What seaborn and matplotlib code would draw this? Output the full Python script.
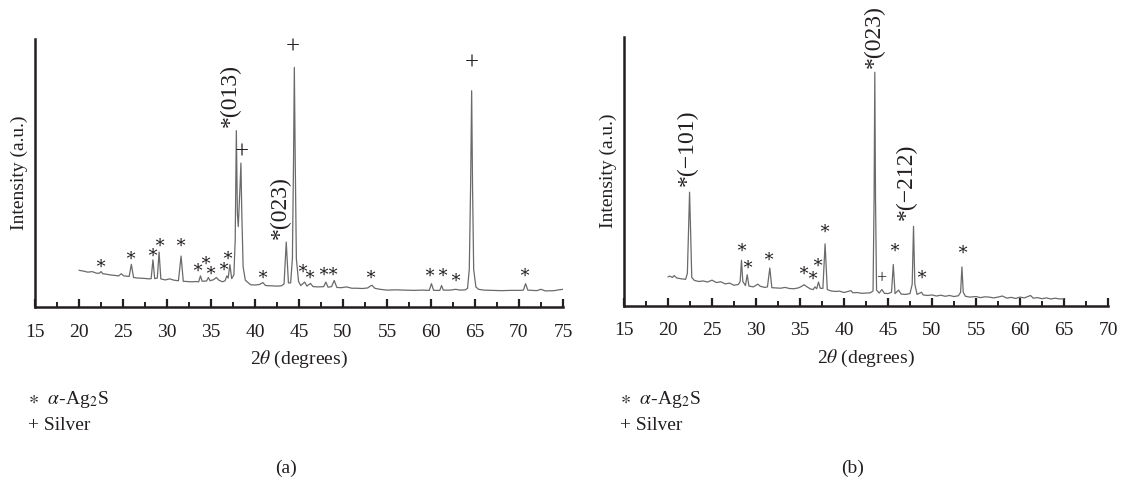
import numpy as np
import pandas as pd
import matplotlib
matplotlib.use("Agg")
import matplotlib.pyplot as plt
import seaborn as sns

# ---------------- data ----------------
# Panel (a): 2theta (deg) and intensity (a.u., 0-100 of axis height)
a_theta = [20.0, 20.5, 21.0, 21.5, 22.0, 22.3, 22.5, 22.7, 23.0, 23.5, 24.0, 24.5, 24.8, 25.1,
           25.7, 25.95, 26.2, 26.7, 27.3, 28.0, 28.2, 28.4, 28.6, 28.9, 29.1, 29.3, 29.8, 30.3,
           30.8, 31.3, 31.6, 31.85, 32.3, 32.8, 33.3, 33.6, 33.8, 34.0, 34.5, 34.7, 34.9, 35.3,
           35.6, 35.9, 36.3, 36.6, 36.8, 36.95, 37.15, 37.35, 37.6, 37.75, 37.88, 38.0, 38.1,
           38.3, 38.4, 38.5, 38.65, 38.9, 39.5, 40.0, 40.5, 40.9, 41.2, 41.8, 42.5, 43.0, 43.3,
           43.55, 43.8, 44.05, 44.25, 44.38, 44.47, 44.57, 44.7, 44.95, 45.2, 45.65, 45.9, 46.3,
           46.6, 47.2, 47.8, 48.05, 48.3, 48.7, 49.0, 49.3, 49.8, 50.4, 51.0, 51.6, 52.2, 52.8,
           53.1, 53.3, 53.6, 54.2, 55.0, 56.0, 57.0, 58.0, 59.0, 59.8, 60.05, 60.3, 61.0, 61.2,
           61.4, 62.2, 62.8, 63.3, 63.9, 64.15, 64.35, 64.5, 64.62, 64.72, 64.85, 65.1, 65.4,
           66.0, 67.0, 68.0, 69.0, 70.0, 70.5, 70.75, 71.0, 72.0, 72.5, 73.0, 74.0, 74.5, 75.0]
a_int = [13.7, 13.4, 13.0, 13.2, 12.6, 12.6, 13.2, 12.4, 12.3, 12.0, 11.8, 11.6, 12.4, 11.6,
         11.4, 15.9, 11.0, 10.8, 10.7, 10.5, 10.6, 17.6, 10.6, 10.8, 20.5, 10.5, 10.1, 10.5,
         10.0, 9.8, 19.0, 9.6, 9.5, 9.4, 9.5, 9.4, 11.6, 9.6, 9.7, 11.0, 9.8, 10.2,
         11.0, 10.0, 9.4, 9.8, 11.6, 10.8, 15.8, 10.6, 12.0, 25.0, 65.8, 35.0, 30.0,
         45.0, 53.7, 35.0, 15.0, 10.0, 8.3, 8.2, 8.4, 9.1, 8.0, 7.9, 7.8, 7.9, 8.6,
         24.2, 9.0, 9.0, 18.0, 55.0, 89.4, 55.0, 18.0, 9.5, 8.0, 9.3, 7.8, 8.8,
         7.6, 7.5, 7.6, 9.3, 7.4, 7.6, 9.9, 7.3, 7.2, 7.5, 7.0, 7.0, 6.9, 7.1,
         7.8, 8.1, 7.0, 6.6, 6.3, 6.4, 6.3, 6.2, 6.3, 6.2, 8.7, 6.2, 6.2, 8.0,
         6.3, 6.3, 6.6, 6.3, 6.4, 7.0, 14.0, 45.0, 80.7, 45.0, 14.0, 7.5, 6.6,
         6.3, 6.2, 6.1, 6.2, 6.2, 6.3, 8.7, 6.3, 6.1, 6.6, 6.0, 6.1, 6.4, 6.6]

# Panel (b)
b_theta = [20.0, 20.2, 20.5, 20.7, 21.0, 21.5, 22.0, 22.2, 22.35, 22.45, 22.55, 22.7, 23.0, 23.5,
           24.0, 24.5, 25.0, 25.5, 26.0, 26.5, 27.0, 27.5, 28.0, 28.2, 28.35, 28.5, 28.8, 29.0,
           29.2, 29.7, 30.2, 30.5, 31.0, 31.3, 31.57, 31.8, 32.3, 32.8, 33.3, 33.8, 34.3, 34.8,
           35.2, 35.45, 35.8, 36.2, 36.5, 36.7, 36.9, 37.1, 37.3, 37.6, 37.85, 38.1, 38.5, 39.0,
           39.5, 40.0, 40.8, 41.0, 41.5, 42.0, 42.5, 43.0, 43.3, 43.42, 43.5, 43.58, 43.7, 44.0,
           44.3, 44.6, 45.0, 45.4, 45.6, 45.8, 46.2, 46.5, 47.0, 47.5, 47.75, 47.9, 48.05, 48.3,
           48.8, 49.0, 49.5, 50.0, 50.5, 51.0, 51.5, 52.0, 52.5, 53.0, 53.25, 53.4, 53.55, 53.8,
           54.3, 55.0, 55.5, 56.0, 56.5, 57.0, 57.5, 58.0, 58.5, 59.0, 59.5, 60.0, 60.5, 61.2,
           61.5, 62.0, 62.5, 63.0, 63.5, 64.0, 64.5, 65.0]
b_int = [10.7, 11.0, 10.5, 11.2, 10.3, 10.0, 9.8, 12.0, 30.0, 42.2, 30.0, 10.5, 9.4, 9.0,
         9.2, 8.8, 9.5, 8.6, 8.9, 8.1, 8.4, 7.6, 7.9, 9.0, 16.9, 9.0, 7.5, 11.5,
         7.3, 7.0, 8.0, 7.2, 6.8, 7.0, 14.0, 6.7, 6.6, 6.5, 6.8, 6.4, 6.3, 6.6,
         7.2, 7.8, 7.0, 6.2, 6.0, 7.0, 6.3, 8.8, 6.5, 6.4, 23.0, 6.0, 5.5, 5.3,
         5.4, 4.9, 5.6, 4.8, 4.9, 4.6, 4.7, 4.8, 5.5, 40.0, 86.8, 40.0, 5.8, 4.7,
         6.0, 4.6, 4.5, 5.0, 15.3, 4.5, 5.8, 4.3, 4.2, 4.5, 8.0, 29.5, 8.0, 4.2,
         5.0, 4.0, 3.8, 4.0, 3.6, 3.9, 3.5, 3.8, 3.4, 3.7, 5.0, 14.4, 5.0, 3.5,
         3.2, 3.4, 3.0, 3.3, 3.2, 2.9, 3.2, 3.6, 2.8, 3.1, 2.7, 3.2, 2.9, 3.8,
         2.8, 3.0, 2.6, 2.9, 2.5, 2.8, 2.5, 2.6]

x_ticks_a = [15, 20, 25, 30, 35, 40, 45, 50, 55, 60, 65, 70, 75]
x_ticks_b = [15, 20, 25, 30, 35, 40, 45, 50, 55, 60, 65, 70]

# Peak labels: (2theta, height, symbol)
a_marks = [(22.45, 16.1, "∗"), (25.8, 19.0, "∗"), (28.3, 20.2, "∗"), (29.1, 23.6, "∗"),
           (31.5, 23.6, "∗"), (33.4, 14.5, "∗"), (34.3, 17.1, "∗"), (34.9, 13.4, "∗"),
           (36.4, 14.7, "∗"), (36.8, 18.9, "∗"), (40.8, 11.8, "∗"), (45.4, 13.9, "∗"),
           (46.2, 11.8, "∗"), (47.7, 12.8, "∗"), (48.8, 12.8, "∗"), (53.1, 12.0, "∗"),
           (59.8, 12.4, "∗"), (61.3, 12.4, "∗"), (62.7, 10.6, "∗"), (70.6, 12.4, "∗"),
           (44.35, 96.9, "+"), (64.6, 90.7, "+"), (38.5, 57.5, "+")]
a_hkl = [(37.2, 67.0, "*(013)"), (42.9, 25.5, "*(023)")]

b_marks = [(28.3, 21.2, "∗"), (29.0, 14.9, "∗"), (31.4, 18.0, "∗"), (35.4, 12.8, "∗"),
           (36.4, 10.9, "∗"), (37.0, 15.9, "∗"), (37.8, 28.5, "∗"), (45.7, 21.5, "∗"),
           (48.8, 11.2, "∗"), (53.4, 20.5, "∗"), (44.25, 9.9, "+")]
b_hkl = [(22.2, 44.5, "*(−101)"), (43.4, 88.5, "*(023)"), (47.1, 32.0, "*(−212)")]

# ---------------- style ----------------
sns.set_style("ticks")
fam = ["Liberation Serif", "DejaVu Serif"]
plt.rcParams["font.family"] = fam
plt.rcParams["mathtext.fontset"] = "stix"
ink = "#231f20"

fig = plt.figure(figsize=(11.22, 4.88), dpi=100)
ax_a = fig.add_axes([35 / 1122, 1 - 307 / 488, 528 / 1122, 268 / 488])
ax_b = fig.add_axes([624 / 1122, 1 - 305.7 / 488, 484 / 1122, 269 / 488])

panels = [
    (ax_a, a_theta, a_int, x_ticks_a, a_marks, a_hkl, "(a)", 28, 18),
    (ax_b, b_theta, b_int, x_ticks_b, b_marks, b_hkl, "(b)", 620, 13),
]

for ax, th, inten, ticks, marks, hkl, tag, lx, plus_size in panels:
    df = pd.DataFrame({"theta": th, "I": inten})
    sns.lineplot(data=df, x="theta", y="I", ax=ax, color="#6a6a6a", linewidth=0.9,
                 estimator=None, sort=False)
    ax.set_xlim(ticks[0], ticks[-1])
    ax.set_ylim(0, 100)
    ax.set_xticks(ticks)
    ax.set_xticks([t + 2.5 for t in ticks[:-1]], minor=True)
    ax.set_yticks([])
    for s in ["top", "right"]:
        ax.spines[s].set_visible(False)
    for s in ["left", "bottom"]:
        ax.spines[s].set_linewidth(1.8)
        ax.spines[s].set_color(ink)
    ax.tick_params(axis="x", which="major", direction="in", length=6, width=1.6,
                   color=ink, pad=12, labelsize=14, labelcolor=ink)
    ax.tick_params(axis="x", which="minor", direction="in", length=3.5, width=1.4, color=ink)
    ax.set_xlabel(r"2$\theta$ (degrees)", fontsize=14, color=ink, labelpad=6)
    ax.set_ylabel("Intensity (a.u.)", fontsize=14, color=ink, labelpad=5)
    for x, y, s in marks:
        ax.text(x, y, s, ha="center", va="center", fontsize=13 if s == "∗" else plus_size,
                color=ink, family=fam)
    for x, y, s in hkl:
        ax.text(x, y, s, ha="center", va="bottom", rotation=90, fontsize=17,
                color=ink, family=fam, clip_on=False)
    fig.text(lx / 1122, 1 - 400 / 488, r"$\ast$  $\alpha$-Ag$_2$S", fontsize=14, color=ink,
             va="center", ha="left")
    fig.text(lx / 1122, 1 - 425 / 488, "+ Silver", fontsize=14, color=ink,
             va="center", ha="left", family=fam)
    cx = (ax.get_position().x0 + ax.get_position().x1) / 2 - 13 / 1122
    fig.text(cx, 1 - 468 / 488, tag, fontsize=14, color=ink, ha="center", va="center",
             family=fam)

fig.savefig("out.png", dpi=100)
